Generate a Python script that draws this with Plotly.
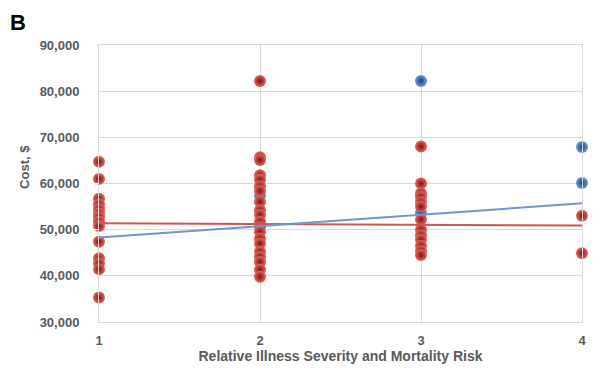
import plotly.graph_objects as go

# Red series (severity level, cost)
red_x = [1]*14 + [2]*20 + [3]*13 + [4]*2
red_y = [64700, 61000, 56700, 55500, 54500, 53500, 52700, 51700, 50800, 47400, 43800, 42700, 41400, 35300,
         82200, 65700, 65100, 61800, 60800, 59400, 58400, 56000, 54200, 53200, 51700, 50600, 49500, 48100,
         47000, 45200, 44100, 43000, 41300, 39800,
         68000, 60000, 57900, 57100, 56000, 55000, 52200, 50000, 48800, 47800, 46500, 45400, 44500,
         53000, 44900]

# Blue series
blue_x = [2, 3, 3, 4, 4]
blue_y = [57300, 82200, 53600, 67900, 60100]

# Trend lines (endpoints at x = 1 and x = 4)
trend_x = [1, 4]
red_trend = [51400, 50900]
blue_trend = [48300, 55700]

x_ticks = [1, 2, 3, 4]
y_ticks = [30000, 40000, 50000, 60000, 70000, 80000, 90000]

RED_DARK = "#7e1212"
BLUE_DARK = "#1c3f7a"

fig = go.Figure()

fig.add_trace(go.Scatter(x=blue_x, y=blue_y, mode="markers", cliponaxis=False,
                         marker=dict(size=12, color="#6a9be0",
                                     gradient=dict(type="radial", color=BLUE_DARK),
                                     line=dict(width=0)),
                         showlegend=False))
fig.add_trace(go.Scatter(x=red_x, y=red_y, mode="markers", cliponaxis=False,
                         marker=dict(size=12, color="#e8645c",
                                     gradient=dict(type="radial", color=RED_DARK),
                                     line=dict(width=0)),
                         showlegend=False))
fig.add_trace(go.Scatter(x=trend_x, y=red_trend, mode="lines",
                         line=dict(color="#cf5650", width=2), showlegend=False))
fig.add_trace(go.Scatter(x=trend_x, y=blue_trend, mode="lines",
                         line=dict(color="#6f96cf", width=2), showlegend=False))

font_family = "Liberation Sans, Arial, sans-serif"
gray = "#5a5a5a"

fig.update_layout(
    width=592, height=370,
    margin=dict(l=91, r=18, t=37, b=56),
    paper_bgcolor="white", plot_bgcolor="white",
    font=dict(family=font_family, color=gray, size=13),
    xaxis=dict(range=[1, 4], tickvals=x_ticks, showgrid=True, gridcolor="#d9d9d9", gridwidth=1,
               zeroline=False, showline=True, linecolor="#d9d9d9", mirror=True,
               ticks="outside", ticklen=6, tickcolor="white",
               tickfont=dict(size=13, family=font_family, color=gray, weight="bold"),
               title=dict(text="<b>Relative Illness Severity and Mortality Risk</b>",
                          font=dict(size=14, color=gray), standoff=3)),
    yaxis=dict(range=[30000, 90000], tickvals=y_ticks, tickformat=",d",
               showgrid=True, gridcolor="#d9d9d9", gridwidth=1,
               zeroline=False, showline=True, linecolor="#d9d9d9", mirror=True,
               ticks="outside", ticklen=16, tickcolor="white",
               tickfont=dict(size=13, family=font_family, color=gray, weight="bold")),
    annotations=[
        dict(text="<b>B</b>", x=0, y=1, xref="paper", yref="paper",
             xanchor="left", yanchor="top", showarrow=False,
             font=dict(size=22, color="black", family=font_family),
             xshift=-91, yshift=37),
        dict(text="<b>Cost, $</b>", x=0, y=0.56, xref="paper", yref="paper",
             xanchor="center", yanchor="middle", showarrow=False, textangle=-90,
             font=dict(size=13, color=gray, family=font_family), xshift=-74),
    ],
)

fig.write_html("out.html")
